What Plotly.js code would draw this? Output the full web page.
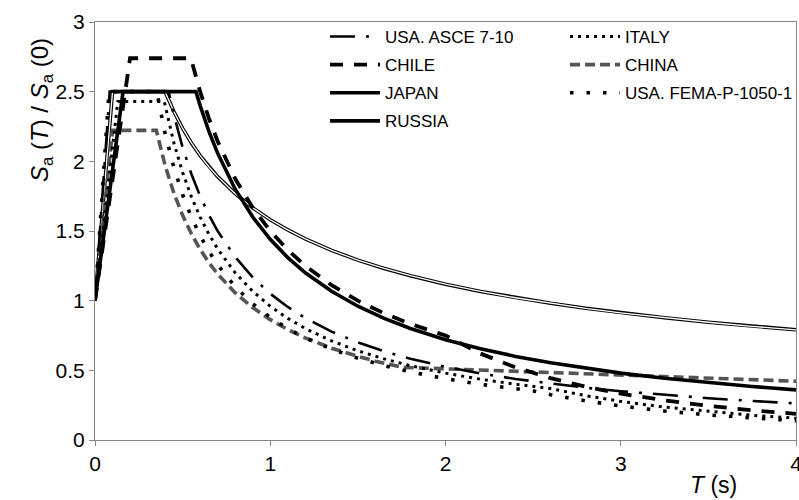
<!DOCTYPE html>
<html>
<head>
<meta charset="utf-8">
<script src="https://cdn.plot.ly/plotly-3.0.1.min.js"></script>
<style>html,body{margin:0;padding:0;background:#fff;}#chart{width:799px;height:500px;}</style>
</head>
<body>
<div id="chart"></div>
<script>
// ---- data ----
const seriesNames = ["USA. ASCE 7-10", "CHILE", "JAPAN", "RUSSIA", "ITALY", "CHINA", "USA. FEMA-P-1050-1"];

const T_asce  = [0, 0.084, 0.42, 0.45, 0.5, 0.55, 0.6, 0.65, 0.7, 0.8, 0.9, 1.0, 1.1, 1.2, 1.35, 1.5, 1.65, 1.8, 2.0, 2.2, 2.4, 2.6, 2.8, 3.0, 3.25, 3.5, 3.75, 4.0];
const Sa_asce = [1, 2.5, 2.5, 2.333, 2.1, 1.909, 1.75, 1.615, 1.5, 1.313, 1.167, 1.05, 0.955, 0.875, 0.778, 0.7, 0.636, 0.583, 0.525, 0.477, 0.438, 0.404, 0.375, 0.35, 0.323, 0.3, 0.28, 0.263];

const T_chile  = [0, 0.2, 0.547, 0.6, 0.65, 0.7, 0.8, 0.9, 1.0, 1.1, 1.2, 1.35, 1.5, 1.65, 1.8, 2.0, 2.2, 2.4, 2.6, 2.8, 3.0, 3.25, 3.5, 3.75, 4.0];
const Sa_chile = [1, 2.74, 2.74, 2.5, 2.308, 2.143, 1.875, 1.667, 1.5, 1.364, 1.25, 1.111, 1.0, 0.909, 0.833, 0.75, 0.62, 0.521, 0.444, 0.383, 0.333, 0.284, 0.245, 0.213, 0.188];

const T_japan  = [0, 0.16, 0.576, 0.6, 0.65, 0.7, 0.8, 0.9, 1.0, 1.1, 1.2, 1.35, 1.5, 1.65, 1.8, 2.0, 2.2, 2.4, 2.6, 2.8, 3.0, 3.25, 3.5, 3.75, 4.0];
const Sa_japan = [1, 2.5, 2.5, 2.4, 2.215, 2.057, 1.8, 1.6, 1.44, 1.309, 1.2, 1.067, 0.96, 0.873, 0.8, 0.72, 0.655, 0.6, 0.554, 0.514, 0.48, 0.443, 0.411, 0.384, 0.36];

const T_russia  = [0, 0.1, 0.4, 0.45, 0.5, 0.55, 0.6, 0.65, 0.7, 0.8, 0.9, 1.0, 1.1, 1.2, 1.35, 1.5, 1.65, 1.8, 2.0, 2.2, 2.4, 2.6, 2.8, 3.0, 3.25, 3.5, 3.75, 4.0];
const Sa_russia = [1, 2.5, 2.5, 2.357, 2.236, 2.132, 2.041, 1.961, 1.89, 1.768, 1.667, 1.581, 1.508, 1.443, 1.361, 1.291, 1.231, 1.179, 1.118, 1.066, 1.021, 0.981, 0.945, 0.913, 0.877, 0.845, 0.816, 0.791];

const T_italy  = [0, 0.13, 0.395, 0.42, 0.45, 0.5, 0.55, 0.6, 0.65, 0.7, 0.8, 0.9, 1.0, 1.1, 1.2, 1.35, 1.5, 1.65, 1.8, 2.0, 2.2, 2.4, 2.6, 2.8, 3.0, 3.25, 3.5, 3.75, 4.0];
const Sa_italy = [1, 2.43, 2.43, 2.286, 2.133, 1.92, 1.745, 1.6, 1.477, 1.371, 1.2, 1.067, 0.96, 0.873, 0.8, 0.711, 0.64, 0.582, 0.533, 0.48, 0.436, 0.4, 0.369, 0.318, 0.277, 0.236, 0.204, 0.177, 0.156];

const T_china  = [0, 0.1, 0.35, 0.4, 0.45, 0.5, 0.55, 0.6, 0.65, 0.7, 0.8, 0.9, 1.0, 1.1, 1.2, 1.35, 1.5, 1.6, 1.75, 2.0, 3.0, 4.0];
const Sa_china = [1, 2.222, 2.222, 1.971, 1.772, 1.612, 1.48, 1.368, 1.273, 1.191, 1.056, 0.95, 0.864, 0.793, 0.733, 0.659, 0.6, 0.566, 0.522, 0.511, 0.466, 0.422];

const T_fema  = [0, 0.08, 0.352, 0.4, 0.45, 0.5, 0.55, 0.6, 0.65, 0.7, 0.8, 0.9, 1.0, 1.1, 1.2, 1.35, 1.5, 1.65, 1.8, 2.0, 2.2, 2.5, 2.6, 2.8, 3.0, 3.25, 3.5, 3.75, 4.0];
const Sa_fema = [1, 2.5, 2.5, 2.2, 1.956, 1.76, 1.6, 1.467, 1.354, 1.257, 1.1, 0.978, 0.88, 0.8, 0.733, 0.652, 0.587, 0.533, 0.489, 0.44, 0.4, 0.352, 0.325, 0.281, 0.244, 0.208, 0.18, 0.156, 0.138];

const xTickVals = [0, 1, 2, 3, 4];
const xTickText = ["0", "1", "2", "3", "4"];
const yTickVals = [0, 0.5, 1, 1.5, 2, 2.5, 3];
const yTickText = ["0", "0.5", "1", "1.5", "2", "2.5", "3"];

// ---- traces ----
function tr(x, y, name, line, legend, rank, show) {
  return {
    type: 'scatter', mode: 'lines', x: x, y: y, name: name,
    line: line, legend: legend, legendrank: rank, legendgroup: name + (show === false ? '_w' : ''),
    showlegend: show !== false, hoverinfo: 'skip'
  };
}

const traces = [
  tr(T_russia, Sa_russia, seriesNames[3], {color: '#000', width: 3.6}, 'legend', 4),
  tr(T_russia, Sa_russia, seriesNames[3], {color: '#fff', width: 1.3}, 'legend', 5, false),
  tr(T_china,  Sa_china,  seriesNames[5], {color: '#555555', width: 3.6, dash: '10px,5px'}, 'legend2', 2),
  tr(T_fema,   Sa_fema,   seriesNames[6], {color: '#000', width: 3.6, dash: '3.5px,13px'}, 'legend2', 3),
  tr(T_italy,  Sa_italy,  seriesNames[4], {color: '#000', width: 3, dash: '3px,5px'}, 'legend2', 1),
  tr(T_asce,   Sa_asce,   seriesNames[0], {color: '#000', width: 2.6, dash: '25px,11px,3px,11px'}, 'legend', 1),
  tr(T_chile,  Sa_chile,  seriesNames[1], {color: '#000', width: 3.8, dash: '13px,11px'}, 'legend', 2),
  tr(T_japan,  Sa_japan,  seriesNames[2], {color: '#000', width: 3.6}, 'legend', 3)
];

const plotL = 95, plotR = 797, plotT = 22, plotB = 440, W = 799, H = 500;
function px2x(px) { return (px - plotL) / (plotR - plotL); }
function py2y(py) { return (plotB - py) / (plotB - plotT); }

const FONT = 'Arial';

const axisCommon = {
  showgrid: false, zeroline: false, showline: true, linecolor: '#868686', linewidth: 1,
  mirror: true, ticks: 'outside', ticklen: 5, tickcolor: '#868686', tickwidth: 1,
  tickfont: {family: FONT, size: 21, color: '#000'}, fixedrange: true, ticklabeloverflow: 'allow'
};

const legendCommon = {
  xanchor: 'left', yanchor: 'top', bgcolor: 'rgba(0,0,0,0)', borderwidth: 0,
  font: {family: FONT, size: 17, color: '#000'}, traceorder: 'grouped', tracegroupgap: 3,
  orientation: 'v', itemwidth: 50
};

const layout = {
  width: W, height: H,
  margin: {l: plotL, r: W - plotR, t: plotT, b: H - plotB, pad: 0},
  paper_bgcolor: '#fff', plot_bgcolor: '#fff',
  font: {family: FONT, size: 20, color: '#000'},
  xaxis: Object.assign({}, axisCommon, {range: [0, 4], tickvals: xTickVals, ticktext: xTickText}),
  yaxis: Object.assign({}, axisCommon, {range: [0, 3], tickvals: yTickVals, ticktext: yTickText}),
  showlegend: true,
  legend: Object.assign({}, legendCommon, {x: px2x(325), y: py2y(19)}),
  legend2: Object.assign({}, legendCommon, {x: px2x(565), y: py2y(19)}),
  annotations: [
    {xref: 'paper', yref: 'paper', x: px2x(41), y: py2y(110), xanchor: 'center', yanchor: 'middle',
     textangle: -90, showarrow: false, font: {family: FONT, size: 24, color: '#000'},
     text: '<i>S</i><sub>a</sub> (<i>T</i>) / <i>S</i><sub>a</sub> (0)'},
    {xref: 'paper', yref: 'paper', x: px2x(714), y: py2y(485), xanchor: 'center', yanchor: 'middle',
     showarrow: false, font: {family: FONT, size: 23, color: '#000'}, text: '<i>T</i> (s)'}
  ]
};

Plotly.newPlot('chart', traces, layout, {staticPlot: true, displayModeBar: false});
</script>
</body>
</html>
